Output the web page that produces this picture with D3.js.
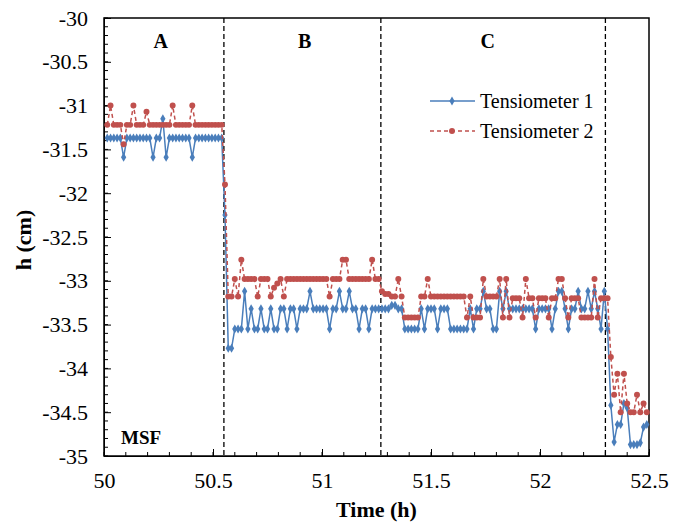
<!DOCTYPE html>
<html>
<head>
<meta charset="utf-8">
<script src="https://cdn.jsdelivr.net/npm/d3@7"></script>
<style>
  body { margin: 0; background: #fff; }
  svg { font-family: "Liberation Serif", "Times New Roman", serif; }
  .axis path, .axis line { stroke: #000; }
</style>
</head>
<body>
<script>
// sampling of the record (h)
var startTime = 50.015, step = 0.015;

var seriesNames = ["Tensiometer 1", "Tensiometer 2"];

var tensiometer1 = [
  -31.37,-31.37,-31.37,-31.37,-31.37,-31.59,-31.37,-31.37,-31.37,-31.37,
  -31.37,-31.37,-31.37,-31.37,-31.59,-31.37,-31.37,-31.15,-31.59,-31.37,
  -31.37,-31.37,-31.37,-31.37,-31.37,-31.37,-31.59,-31.37,-31.37,-31.37,
  -31.37,-31.37,-31.37,-31.37,-31.37,-31.37,-32.25,-33.77,-33.77,-33.55,
  -33.55,-33.55,-33.12,-33.55,-33.32,-33.55,-33.55,-33.32,-33.55,-33.55,
  -33.32,-33.55,-33.55,-33.32,-33.32,-33.55,-33.32,-33.32,-33.55,-33.32,
  -33.32,-33.32,-33.12,-33.32,-33.32,-33.32,-33.32,-33.32,-33.55,-33.32,
  -33.32,-33.12,-33.32,-33.32,-33.12,-33.32,-33.32,-33.55,-33.32,-33.32,
  -33.55,-33.32,-33.32,-33.32,-33.32,-33.32,-33.32,-33.28,-33.28,-33.32,
  -33.32,-33.55,-33.55,-33.55,-33.55,-33.55,-33.32,-33.55,-33.32,-33.32,
  -33.32,-33.55,-33.32,-33.32,-33.32,-33.55,-33.55,-33.55,-33.55,-33.55,
  -33.55,-33.32,-33.55,-33.32,-33.32,-33.12,-33.32,-33.32,-33.55,-33.55,
  -33.12,-33.32,-33.12,-33.32,-33.32,-33.32,-33.32,-33.32,-33.32,-33.32,
  -33.32,-33.55,-33.32,-33.32,-33.32,-33.32,-33.55,-33.32,-33.12,-33.12,
  -33.32,-33.55,-33.32,-33.32,-33.12,-33.32,-33.32,-33.12,-33.32,-33.12,
  -33.32,-33.55,-33.12,-33.55,-34.42,-34.84,-34.64,-34.64,-34.40,-34.45,
  -34.87,-34.87,-34.87,-34.85,-34.67,-34.64
];

var tensiometer2 = [
  -31.22,-31.00,-31.22,-31.22,-31.22,-31.44,-31.22,-31.22,-31.00,-31.22,
  -31.22,-31.22,-31.07,-31.22,-31.22,-31.22,-31.22,-31.22,-31.22,-31.22,
  -31.00,-31.22,-31.22,-31.22,-31.22,-31.22,-31.00,-31.22,-31.22,-31.22,
  -31.22,-31.22,-31.22,-31.22,-31.22,-31.22,-31.90,-33.18,-33.18,-32.98,
  -33.18,-32.76,-32.98,-32.98,-32.98,-32.98,-33.18,-32.98,-32.98,-32.98,
  -33.18,-33.08,-33.03,-32.98,-33.18,-32.98,-32.98,-32.98,-32.98,-32.98,
  -32.98,-32.98,-32.98,-32.98,-32.98,-32.98,-32.98,-32.98,-33.18,-32.98,
  -32.98,-32.98,-32.76,-32.76,-32.98,-32.98,-32.98,-32.98,-32.98,-32.98,
  -32.98,-32.76,-32.98,-32.98,-33.12,-33.15,-33.15,-33.18,-33.18,-32.98,
  -33.18,-33.42,-33.42,-33.42,-33.42,-33.42,-33.18,-33.18,-32.98,-33.18,
  -33.18,-33.18,-33.18,-33.18,-33.18,-33.18,-33.18,-33.18,-33.18,-33.18,
  -33.42,-33.18,-33.42,-33.42,-33.42,-32.98,-33.18,-33.18,-33.18,-33.18,
  -32.98,-33.42,-32.98,-33.42,-33.20,-33.20,-33.20,-33.42,-32.98,-33.20,
  -33.20,-33.42,-33.20,-33.20,-33.20,-33.42,-33.20,-33.20,-32.98,-32.98,
  -33.20,-33.42,-33.20,-33.20,-33.20,-33.42,-33.42,-33.42,-33.42,-32.98,
  -33.42,-33.20,-33.20,-33.20,-33.87,-34.30,-34.06,-34.50,-34.06,-34.40,
  -34.50,-34.50,-34.30,-34.50,-34.40,-34.50
];

// phase boundaries and labels
var boundaries = [50.55, 51.27, 52.30];
var phaseLabels = ["A", "B", "C"];
var phaseCenters = [50.26, 50.92, 51.76];

var xTicks = [50, 50.5, 51, 51.5, 52, 52.5];
var yTicks = [-30, -30.5, -31, -31.5, -32, -32.5, -33, -33.5, -34, -34.5, -35];

var width = 683, height = 525;
var margin = { left: 104, right: 34, top: 18, bottom: 69 };
var serif = "'Liberation Serif', 'Times New Roman', serif";

var svg = d3.select("body").append("svg")
            .attr("width", width)
            .attr("height", height);

var x = d3.scaleLinear().domain([50, 52.5]).range([margin.left, width - margin.right]);
var y = d3.scaleLinear().domain([-35, -30]).range([height - margin.bottom, margin.top]);

function toPoints(values) {
    return values.map(function(v, i) { return { t: startTime + i * step, h: v }; });
}
var series = [
    { name: seriesNames[0], points: toPoints(tensiometer1), color: "#4a7ebb", dash: null, marker: d3.symbolDiamond },
    { name: seriesNames[1], points: toPoints(tensiometer2), color: "#c0504d", dash: "4,3", marker: d3.symbolCircle }
];

// minor ticks
var minorX = d3.range(50, 52.5001, 0.1);
var minorY = d3.range(-35, -29.999, 0.1);
svg.append("g").selectAll("line")
   .data(minorX).enter().append("line")
   .attr("x1", function(d) { return x(d); }).attr("x2", function(d) { return x(d); })
   .attr("y1", y(-35)).attr("y2", y(-35) - 4)
   .attr("stroke", "#000");
svg.append("g").selectAll("line")
   .data(minorY).enter().append("line")
   .attr("y1", function(d) { return y(d); }).attr("y2", function(d) { return y(d); })
   .attr("x1", x(50)).attr("x2", x(50) + 4)
   .attr("stroke", "#000");

var fmt = function(d) { return String(+d.toFixed(1)); };

var xAxis = svg.append("g").classed("axis", true)
   .attr("transform", "translate(0," + y(-35) + ")")
   .call(d3.axisBottom(x).tickValues(xTicks).tickSize(-7).tickSizeOuter(0).tickPadding(16).tickFormat(fmt));

var yAxis = svg.append("g").classed("axis", true)
   .attr("transform", "translate(" + x(50) + ",0)")
   .call(d3.axisLeft(y).tickValues(yTicks).tickSize(-7).tickSizeOuter(0).tickPadding(16).tickFormat(fmt));

// d3 puts sans-serif on the axis group, swap it for the serif face
[xAxis, yAxis].forEach(function(a) {
    a.attr("font-family", serif).attr("font-size", 22);
    a.selectAll("text").style("font-family", serif).style("fill", "#000");
});

// frame
svg.append("rect")
   .attr("x", x(50)).attr("y", y(-30))
   .attr("width", x(52.5) - x(50)).attr("height", y(-35) - y(-30))
   .attr("fill", "none").attr("stroke", "#000").attr("stroke-width", 1.5);

// phase boundaries
svg.append("g").selectAll("line")
   .data(boundaries).enter().append("line")
   .attr("x1", function(d) { return x(d); }).attr("x2", function(d) { return x(d); })
   .attr("y1", y(-30)).attr("y2", y(-35))
   .attr("stroke", "#000").attr("stroke-width", 1.3)
   .attr("stroke-dasharray", "5,3");

svg.append("g").selectAll("text")
   .data(phaseLabels).enter().append("text")
   .attr("x", function(d, i) { return x(phaseCenters[i]); })
   .attr("y", 48)
   .attr("text-anchor", "middle")
   .attr("font-weight", "bold").attr("font-size", 20)
   .text(function(d) { return d; });

svg.append("text")
   .attr("x", 121).attr("y", 444)
   .attr("font-weight", "bold").attr("font-size", 19)
   .text("MSF");

// series
var line = d3.line()
    .x(function(d) { return x(d.t); })
    .y(function(d) { return y(d.h); });

series.forEach(function(s) {
    var g = svg.append("g");
    g.append("path")
     .datum(s.points)
     .attr("d", line)
     .attr("fill", "none")
     .attr("stroke", s.color)
     .attr("stroke-width", 1.5)
     .attr("stroke-dasharray", s.dash);
    g.selectAll("path.marker")
     .data(s.points).enter()
       .append("path")
       .classed("marker", true)
       .attr("d", d3.symbol().type(s.marker).size(s.marker === d3.symbolCircle ? 28 : 24))
       .attr("transform", function(d) { return "translate(" + x(d.t) + "," + y(d.h) + ")"; })
       .attr("fill", s.color);
});

// legend
var legend = svg.append("g");
series.forEach(function(s, i) {
    var ly = 101 + i * 30;
    legend.append("line")
          .attr("x1", 430).attr("x2", 475).attr("y1", ly).attr("y2", ly)
          .attr("stroke", s.color).attr("stroke-width", 1.5)
          .attr("stroke-dasharray", s.dash);
    legend.append("path")
          .attr("d", d3.symbol().type(s.marker).size(s.marker === d3.symbolCircle ? 28 : 24))
          .attr("transform", "translate(452," + ly + ")")
          .attr("fill", s.color);
    legend.append("text")
          .attr("x", 480).attr("y", ly + 7)
          .attr("font-size", 20)
          .text(s.name);
});

// axis titles
svg.append("text")
   .attr("x", x(51.25)).attr("y", 517)
   .attr("text-anchor", "middle")
   .attr("font-weight", "bold").attr("font-size", 22)
   .text("Time (h)");

svg.append("text")
   .attr("transform", "translate(31,240) rotate(-90)")
   .attr("text-anchor", "middle")
   .attr("font-weight", "bold").attr("font-size", 22)
   .text("h (cm)");
</script>
</body>
</html>
